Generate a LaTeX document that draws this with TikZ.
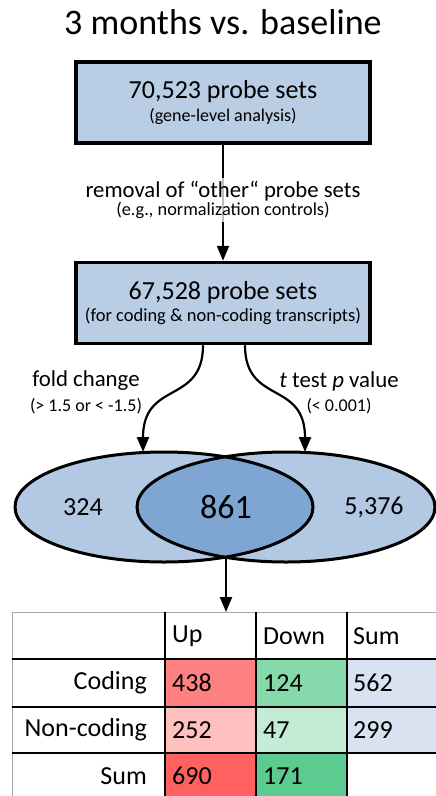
\documentclass[tikz,border=0pt]{standalone}
\usepackage{fontspec}
\setmainfont{Carlito}
\usetikzlibrary{shapes.geometric,arrows.meta,calc}
\definecolor{boxblue}{HTML}{B9CDE5}
\definecolor{ellblue}{HTML}{B3C8E3}
\definecolor{intblue}{HTML}{7FA6D3}
\definecolor{upA}{HTML}{FF8080}
\definecolor{upB}{HTML}{FFC0C0}
\definecolor{upC}{HTML}{FF6060}
\definecolor{dnA}{HTML}{86D9AB}
\definecolor{dnB}{HTML}{C4EBD6}
\definecolor{dnC}{HTML}{5CCB8F}
\definecolor{sumbg}{HTML}{D9E2F0}
\definecolor{tgray}{HTML}{A8A8A8}
\tikzset{
  probebox/.style={draw=black, line width=3.5pt, fill=boxblue, minimum width=294pt, minimum height=81pt, inner sep=0pt, align=center},
  fz/.style={font=\fontsize{#1}{#1}\selectfont},
  arr/.style={line width=2.2pt, -{Triangle[length=15pt,width=12pt]}},
  vset/.style={ellipse, draw=black, line width=3pt, minimum width=298pt, minimum height=110pt, inner sep=0pt},
  tline/.style={line width=2pt, black},
  cellL/.style={anchor=west, fz=26, inner sep=0pt},
  cellR/.style={anchor=east, fz=26, inner sep=0pt},
}
\begin{document}
\begin{tikzpicture}[x=1pt,y=-1pt]
\useasboundingbox (0,0) rectangle (436,796);
% title
\node[fz=36] (title) at (223,22) {3 months vs. baseline};
% boxes
\node[probebox] (b1) at (223,102.5) {{\fontsize{26}{28}\selectfont 70,523 probe sets}\\[4pt]{\fontsize{18}{19}\selectfont (gene-level analysis)}};
\node[probebox] (b2) at (223,303) {{\fontsize{26}{28}\selectfont 67,528 probe sets}\\[4pt]{\fontsize{18.5}{19}\selectfont (for coding \& non-coding transcripts)}};
% arrow between boxes
\draw[arr] (b1.south) -- (b2.north);
\node[fill=white, fill opacity=0.75, text opacity=1, inner sep=3pt, align=center] (rem) at (223,200)
  {{\fontsize{22.7}{24}\selectfont removal of “other“ probe sets}\\[0pt]{\fontsize{18.3}{19}\selectfont (e.g., normalization controls)}};
% Venn fills
\fill[ellblue] (164,507) ellipse [x radius=149, y radius=55];
\fill[ellblue] (286,507) ellipse [x radius=149, y radius=55];
\begin{scope}
  \clip (164,507) ellipse [x radius=149, y radius=55];
  \fill[intblue] (286,507) ellipse [x radius=149, y radius=55];
\end{scope}
\node[vset] (e1) at (164,507) {};
\node[vset] (e2) at (286,507) {};
\node[fz=26] (n1) at (83,507) {324};
\node[fz=34] (n2) at (226,507) {861};
\node[fz=26] (n3) at (374,507) {5,376};
% curved arrows
\coordinate (fcs) at ($(b2.south)+(-20,0)$);
\coordinate (fce) at (143,452);
\coordinate (tts) at ($(b2.south)+(22,0)$);
\coordinate (tte) at (305,452);
\draw[arr] (fcs) .. controls (203,405) and (143,380) .. (fce);
\draw[arr] (tts) .. controls (245,405) and (305,380) .. (tte);
\node[fz=22.8] (fc) at (86,381) {fold change};
\node[fz=18] (fcv) at (86,406) {(> 1.5 or < -1.5)};
\node[fz=22.8] (tt) at (339,381) {\textit{t} test \textit{p} value};
\node[fz=18] (ttv) at (339,406) {(< 0.001)};
% table fills
\fill[upA] (165,659) rectangle (256,707);
\fill[dnA] (256,659) rectangle (347,707);
\fill[sumbg] (347,659) rectangle (436,707);
\fill[upB] (165,707) rectangle (256,753);
\fill[dnB] (256,707) rectangle (347,753);
\fill[sumbg] (347,707) rectangle (436,753);
\fill[upC] (165,753) rectangle (256,796);
\fill[dnC] (256,753) rectangle (347,796);
% arrow to table
\coordinate (tabtop) at (226,612);
\coordinate (vbot) at (226,557);
\draw[arr] (vbot) -- (tabtop);
% table lines
\draw[tgray, line width=1.5pt] (12.5,796) -- (12.5,612.5) -- (436,612.5);
\draw[tline] (12,659) -- (436,659);
\draw[tline] (12,707) -- (436,707);
\draw[tline] (12,753) -- (436,753);
\draw[tline] (165,612) -- (165,796);
\draw[tline] (256,612) -- (256,796);
\draw[tline] (347,612) -- (347,796);
% table text
\node[cellL] (hup) at (172,636) {Up};
\node[cellL] (hdn) at (263,636) {Down};
\node[cellL] (hsm) at (353,636) {Sum};
\node[cellR] (rc) at (147,683) {Coding};
\node[cellR] (rn) at (147,730) {Non-coding};
\node[cellR] (rs) at (147,776) {Sum};
\node[cellL] (c11) at (172,683) {438};
\node[cellL] (c12) at (263,683) {124};
\node[cellL] (c13) at (353,683) {562};
\node[cellL] (c21) at (172,730) {252};
\node[cellL] (c22) at (263,730) {47};
\node[cellL] (c23) at (353,730) {299};
\node[cellL] (c31) at (172,776) {690};
\node[cellL] (c32) at (263,776) {171};
\end{tikzpicture}
\end{document}
